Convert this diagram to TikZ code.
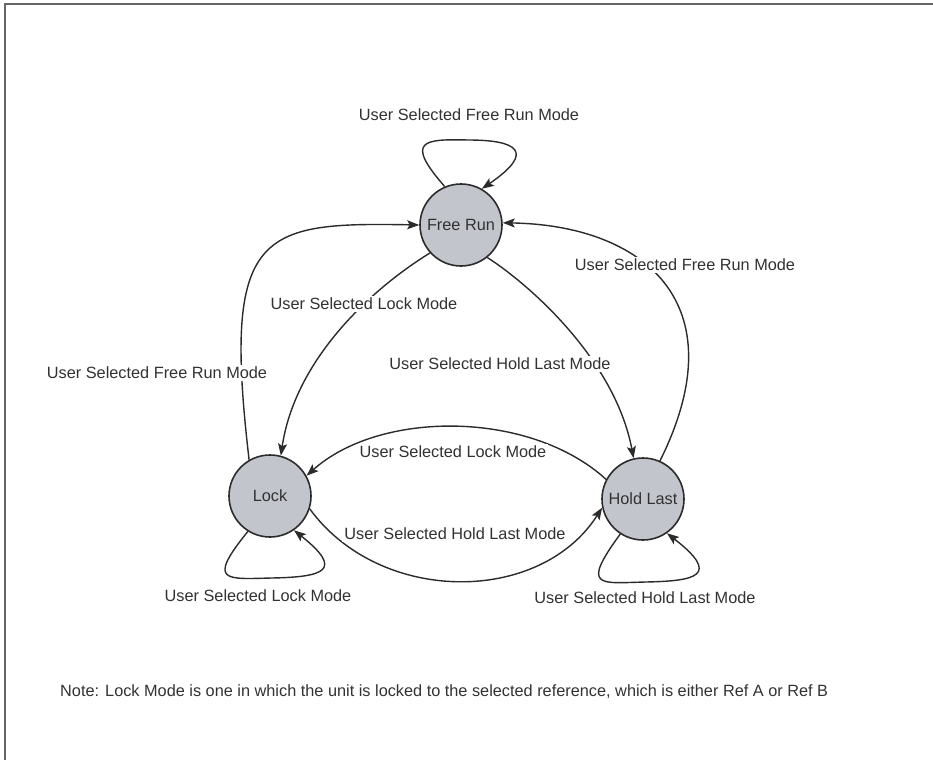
\documentclass[tikz,border=0pt]{standalone}
\usepackage{fontspec}
\setmainfont{Liberation Sans}
\usetikzlibrary{arrows.meta}
\definecolor{stategray}{RGB}{195,197,205}
\definecolor{inkc}{RGB}{43,43,43}
\definecolor{txtc}{RGB}{50,50,50}
\begin{document}
\begin{tikzpicture}[x=1pt,y=-1pt,
  font=\fontsize{16.3}{19}\selectfont,
  state/.style={circle,draw=inkc,line width=1.6pt,fill=stategray,minimum size=82pt,inner sep=0pt,text=txtc},
  edge/.style={draw=inkc,line width=1.4pt,-{Stealth[length=12pt,width=9pt,inset=2.5pt]}},
  lbl/.style={fill=white,text=txtc,inner sep=2pt}]
\useasboundingbox (0,0) rectangle (933,770);
\draw[gray!80!black,line width=1.3pt] (5,760) -- (5,4) -- (933,4);

\node[state] (fr) at (461,225) {Free Run};
\node[state] (lk) at (270,496) {Lock};
\node[state] (hl) at (643,499) {Hold Last};

% loop apex coordinates
\coordinate (frtop) at (468,140);
\coordinate (lkbot) at (272,578);
\coordinate (hlbot) at (646,582);

% self loops
\draw[edge] (fr.113) .. controls (404,140) and (424,139) .. (frtop)
                     .. controls (516,140) and (537,151) .. (fr.60);
\draw[edge] (lk.238) .. controls (206,583) and (226,579) .. (lkbot)
                     .. controls (325,577) and (344,570) .. (lk.-55);
\draw[edge] (hl.237) .. controls (580,589) and (600,583) .. (hlbot)
                     .. controls (695,581) and (722,576) .. (hl.-55);

% transitions
\draw[edge] (lk.120) .. controls (222,230) and (260,222) .. (fr.180);
\draw[edge] (fr.222) .. controls (370,290) and (295,360) .. (lk.75);
\draw[edge] (fr.-51) .. controls (530,285) and (615,360) .. (hl.103);
\draw[edge] (hl.66) .. controls (740,300) and (640,225) .. (fr.3);
\draw[edge] (hl.152) .. controls (530,410) and (380,410) .. (lk.29);
\draw[edge] (lk.-18) .. controls (380,605) and (540,605) .. (hl.192);

% labels
\node[lbl] (l1) at (469,115) {User Selected Free Run Mode};
\node[lbl] (l2) at (157,373) {User Selected Free Run Mode};
\node[lbl] (l3) at (364,304) {User Selected Lock Mode};
\node[lbl] (l4) at (500,364) {User Selected Hold Last Mode};
\node[lbl] (l5) at (685,265) {User Selected Free Run Mode};
\node[lbl] (l6) at (453,452) {User Selected Lock Mode};
\node[lbl] (l7) at (455,534) {User Selected Hold Last Mode};
\node[lbl] (l8) at (258,596) {User Selected Lock Mode};
\node[lbl] (l9) at (645,598) {User Selected Hold Last Mode};

\node[anchor=west,text=txtc,inner sep=0pt] (note) at (60,692) {Note: Lock Mode is one in which the unit is locked to the selected reference, which is either Ref A or Ref B};
\end{tikzpicture}
\end{document}
